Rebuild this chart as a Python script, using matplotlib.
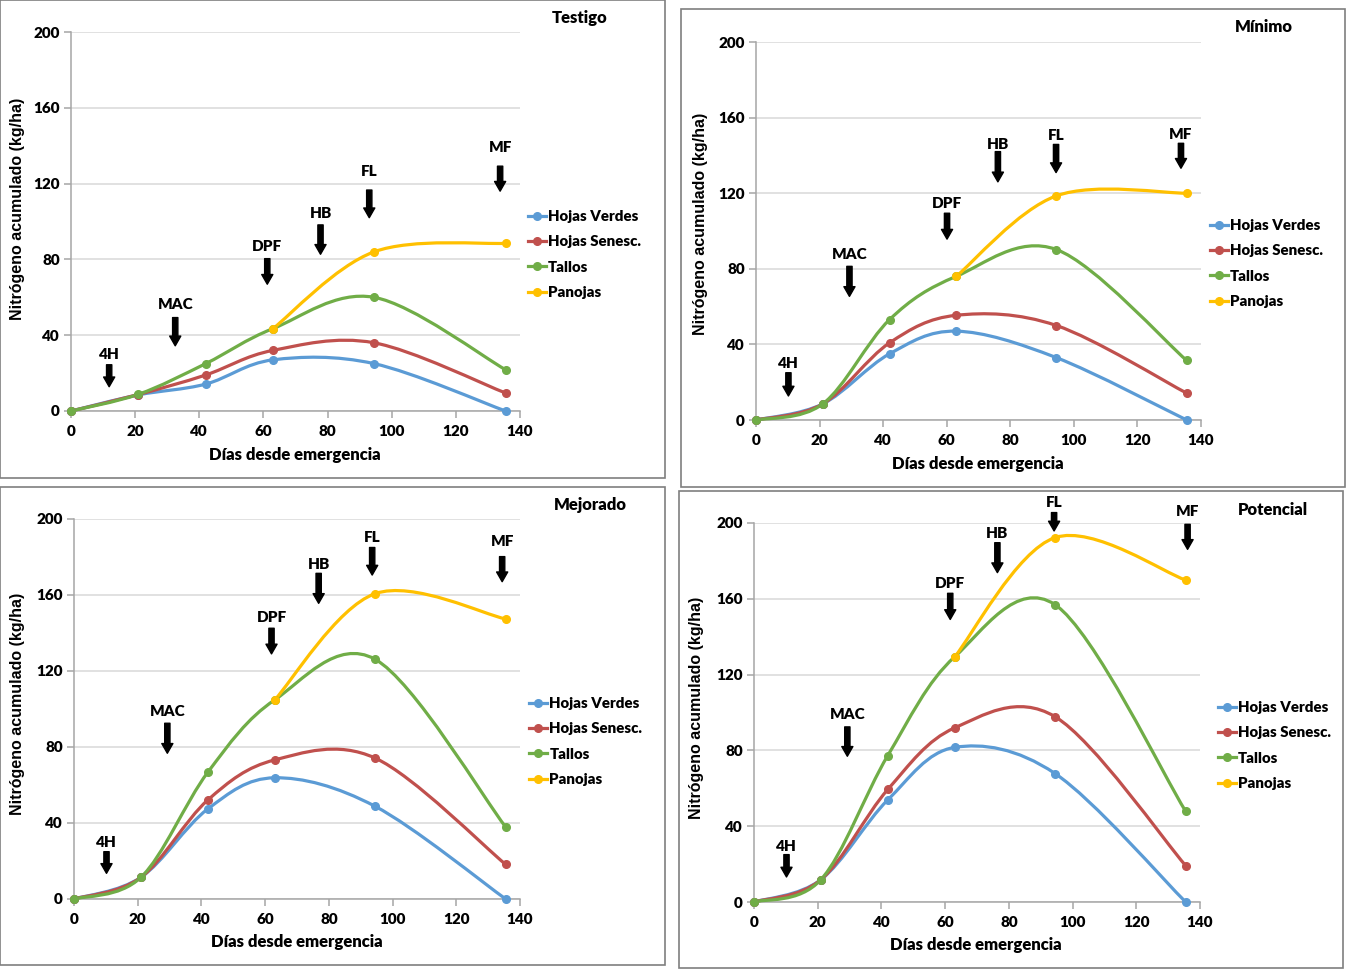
import numpy as np
import matplotlib
matplotlib.use('Agg')
import matplotlib.pyplot as plt
from matplotlib.path import Path
from matplotlib.patches import PathPatch, Rectangle, FancyArrowPatch
from matplotlib.lines import Line2D
from matplotlib import font_manager

# Datos
dias = [0, 21, 42, 63, 94.5, 135.5]
dias_panojas = [63, 94.5, 135.5]
nombres_series = ['Hojas Verdes', 'Hojas Senesc.', 'Tallos', 'Panojas']
colores = ['#5B9BD5', '#C0504D', '#70AD47', '#FFC000']
etapas = ['4H', 'MAC', 'DPF', 'HB', 'FL', 'MF']

testigo_verdes = [0, 8.5, 14.2, 27, 25, 0]
testigo_senesc = [0, 8.7, 19, 32, 36, 9.5]
testigo_tallos = [0, 8.8, 25, 43.5, 60, 21.8]
testigo_panojas = [43.5, 84, 88.5]

minimo_verdes = [0, 8.5, 35, 47, 33, 0]
minimo_senesc = [0, 8.5, 40.8, 55.4, 50, 14.2]
minimo_tallos = [0, 8.5, 53.1, 76, 90.2, 31.5]
minimo_panojas = [76, 118.6, 120]

mejorado_verdes = [0, 11.4, 47.4, 63.8, 48.8, 0]
mejorado_senesc = [0, 11.4, 52.1, 73.2, 74.2, 18.2]
mejorado_tallos = [0, 11.4, 66.7, 104.8, 126.2, 37.9]
mejorado_panojas = [104.8, 160.7, 147.4]

potencial_verdes = [0, 11.8, 53.9, 81.6, 67.8, 0]
potencial_senesc = [0, 11.8, 59.4, 91.9, 97.8, 19.2]
potencial_tallos = [0, 11.8, 77.3, 129.4, 156.9, 47.9]
potencial_panojas = [129.4, 192.3, 169.9]

# posiciones de las flechas de etapas: x, y del texto, inicio y fin de la flecha
testigo_etapa_x = [11.9, 32.5, 61.2, 77.8, 93, 133.8]
testigo_etapa_txt = [30, 56.4, 86.7, 104, 126.4, 138.9]
testigo_etapa_ini = [24.4, 49.3, 80.4, 98.2, 116.6, 129.2]
testigo_etapa_fin = [12.8, 34.4, 66.9, 82.7, 102, 116]

minimo_etapa_x = [10.2, 29.4, 60.1, 76.1, 94.4, 133.7]
minimo_etapa_txt = [29.7, 87.8, 114.3, 146, 150.7, 151.1]
minimo_etapa_ini = [25, 81.3, 109.4, 142, 145.8, 146.4]
minimo_etapa_fin = [12.7, 65.4, 95.7, 126, 130.9, 133.2]

mejorado_etapa_x = [10.2, 29.3, 62, 76.8, 93.6, 134.4]
mejorado_etapa_txt = [29.6, 98.9, 148, 176.3, 190.4, 188.4]
mejorado_etapa_ini = [24.9, 92.5, 142.5, 171.4, 185, 180.2]
mejorado_etapa_fin = [13.5, 76.7, 129, 155.6, 170.5, 167]

potencial_etapa_x = [10.2, 29.3, 61.6, 76.4, 94.2, 136.1]
potencial_etapa_txt = [29.4, 98.9, 168, 194.5, 210.7, 206.3]
potencial_etapa_ini = [25, 92.4, 162.9, 189.6, 205.5, 199.3]
potencial_etapa_fin = [13.2, 76.9, 149.1, 173.8, 195.8, 186.1]

W, H = 1347, 969
nombres_fuentes = {f.name for f in font_manager.fontManager.ttflist}
estrecha = 'Lato' if 'Lato' in nombres_fuentes else 'Liberation Sans'
plt.rcParams['font.family'] = [estrecha, 'DejaVu Sans']
GROSOR = 'heavy'


def fx(px):
    return px / W


def fy(py):
    return 1 - py / H


def curva_suave(ax, x, y, color):
    '''Curva suavizada tipo Excel (Catmull-Rom como Bezier cúbica)'''
    p = np.column_stack([x, y]).astype(float)
    verts = [p[0]]
    codes = [Path.MOVETO]
    n = len(p)
    for i in range(n - 1):
        p0 = p[max(i - 1, 0)]
        p1 = p[i]
        p2 = p[i + 1]
        p3 = p[min(i + 2, n - 1)]
        c1 = p1 + (p2 - p0) / 6
        c2 = p2 - (p3 - p1) / 6
        verts += [c1, c2, p2]
        codes += [Path.CURVE4] * 3
    ax.add_patch(PathPatch(Path(verts, codes), facecolor='none', edgecolor=color,
                           lw=2.3, clip_on=False, capstyle='round', zorder=3))
    ax.plot(x, y, 'o', color=color, ms=5.5, clip_on=False, zorder=4)


paneles = [
    dict(titulo='Testigo', datos=[testigo_verdes, testigo_senesc, testigo_tallos, testigo_panojas],
         ex=testigo_etapa_x, et=testigo_etapa_txt, ei=testigo_etapa_ini, ef=testigo_etapa_fin,
         caja=(0, 0, 665, 478), ejes=(71, 32, 520, 411), tit=(580, 18), ylab=(18, 209),
         xlab=(295, 455), ley=(528, 210)),
    dict(titulo='Mínimo', datos=[minimo_verdes, minimo_senesc, minimo_tallos, minimo_panojas],
         ex=minimo_etapa_x, et=minimo_etapa_txt, ei=minimo_etapa_ini, ef=minimo_etapa_fin,
         caja=(681, 9, 1345, 487), ejes=(756, 42, 1201, 420), tit=(1264, 27), ylab=(700, 224),
         xlab=(978, 464), ley=(1210, 219)),
    dict(titulo='Mejorado', datos=[mejorado_verdes, mejorado_senesc, mejorado_tallos, mejorado_panojas],
         ex=mejorado_etapa_x, et=mejorado_etapa_txt, ei=mejorado_etapa_ini, ef=mejorado_etapa_fin,
         caja=(0, 487, 665, 965), ejes=(74, 519, 520, 899), tit=(590, 505), ylab=(18, 704),
         xlab=(297, 942), ley=(529, 697)),
    dict(titulo='Potencial', datos=[potencial_verdes, potencial_senesc, potencial_tallos, potencial_panojas],
         ex=potencial_etapa_x, et=potencial_etapa_txt, ei=potencial_etapa_ini, ef=potencial_etapa_fin,
         caja=(679, 491, 1343, 968), ejes=(754, 523, 1200, 902), tit=(1273, 510), ylab=(697, 708),
         xlab=(976, 945), ley=(1218, 701)),
]

fig = plt.figure(figsize=(W / 100, H / 100), dpi=100)

for pan in paneles:
    x0, y0, x1, y1 = pan['caja']
    fig.patches.append(Rectangle((fx(x0), fy(y1)), fx(x1 - x0), (y1 - y0) / H,
                                 transform=fig.transFigure, facecolor='none',
                                 edgecolor='#7F7F7F', lw=1.2, zorder=-1))
    a0, b0, a1, b1 = pan['ejes']
    ax = fig.add_axes([fx(a0), fy(b1), fx(a1 - a0), (b1 - b0) / H])
    ax.set_facecolor('none')
    ax.set_xlim(0, 140)
    ax.set_ylim(0, 200)
    ax.set_xticks(range(0, 141, 20))
    ax.set_yticks(range(0, 201, 40))
    ax.grid(axis='y', color='#D9D9D9', lw=1.1)
    ax.set_axisbelow(True)
    for s in ['top', 'right']:
        ax.spines[s].set_visible(False)
    for s in ['left', 'bottom']:
        ax.spines[s].set_color('#A6A6A6')
        ax.spines[s].set_linewidth(1.1)
    ax.tick_params(axis='both', colors='#A6A6A6', labelcolor='black', length=5,
                   width=1.1, labelsize=11)
    ax.tick_params(axis='x', pad=5)
    ax.tick_params(axis='y', pad=3)
    for lab in ax.get_xticklabels() + ax.get_yticklabels():
        lab.set_fontweight(GROSOR)

    verdes, senesc, tallos, panojas = pan['datos']
    curva_suave(ax, dias, verdes, colores[0])
    curva_suave(ax, dias, senesc, colores[1])
    curva_suave(ax, dias, tallos, colores[2])
    curva_suave(ax, dias_panojas, panojas, colores[3])

    for nom, xe, yt, yi, yf in zip(etapas, pan['ex'], pan['et'], pan['ei'], pan['ef']):
        ax.text(xe, yt, nom, ha='center', va='center', fontsize=11,
                fontweight=GROSOR, clip_on=False)
        ax.add_patch(FancyArrowPatch((xe, yi), (xe, yf), arrowstyle='simple,head_length=0.7,head_width=0.8,tail_width=0.38',
                                     mutation_scale=10, color='black', shrinkA=0, shrinkB=0,
                                     clip_on=False, zorder=5))

    manejadores = [Line2D([], [], color=c, lw=2.3, marker='o', ms=5.5) for c in colores]
    ax.legend(manejadores, nombres_series, loc='upper left',
              bbox_to_anchor=(fx(pan['ley'][0]), fy(pan['ley'][1])),
              bbox_transform=fig.transFigure, frameon=False, borderpad=0,
              borderaxespad=0, handlelength=1.2, handletextpad=0.15,
              labelspacing=0.82, prop=dict(family=[estrecha], weight=GROSOR, size=10.8))

    fig.text(fx(pan['tit'][0]), fy(pan['tit'][1]), pan['titulo'], ha='center', va='center',
             fontsize=12, fontweight=GROSOR)
    fig.text(fx(pan['xlab'][0]), fy(pan['xlab'][1]), 'Días desde emergencia', ha='center',
             va='center', fontsize=12, fontweight=GROSOR)
    fig.text(fx(pan['ylab'][0]), fy(pan['ylab'][1]), 'Nitrógeno acumulado (kg/ha)', ha='center',
             va='center', rotation=90, fontsize=11.5, fontweight='bold',
             family=['Liberation Sans', 'DejaVu Sans'])

fig.savefig('out.png', dpi=100, facecolor='white')
